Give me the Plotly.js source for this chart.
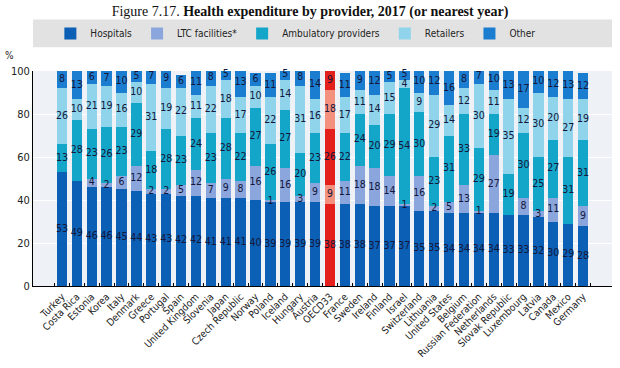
<!DOCTYPE html>
<html>
<head>
<meta charset="utf-8">
<script src="https://cdn.plot.ly/plotly-3.0.1.min.js"></script>
<style>html,body{margin:0;padding:0;background:#fff;}#chart{width:620px;height:368px;}</style>
</head>
<body>
<div id="chart"></div>
<script>
const countries = ["Turkey","Costa Rica","Estonia","Korea","Italy","Denmark","Greece","Portugal","Spain","United Kingdom","Slovenia","Japan","Czech Republic","Norway","Poland","Iceland","Hungary","Austria","OECD33","France","Sweden","Ireland","Finland","Israel","Switzerland","Lithuania","United States","Belgium","Russian Federation","Netherlands","Slovak Republic","Luxembourg","Latvia","Canada","Mexico","Germany"];
const hospitals  = [53,49,46,46,45,44,43,43,42,42,41,41,41,40,39,39,39,39,38,38,38,37,37,37,35,35,34,34,34,34,33,33,32,30,29,28];
const ltc        = [0,0,4,2,6,12,2,2,5,12,7,9,8,16,1,16,3,9,9,11,18,18,14,1,16,2,5,13,1,27,0,8,3,11,0,9];
const ambulatory = [13,28,23,26,23,29,18,28,23,24,23,28,22,27,26,27,20,23,26,22,24,20,29,54,30,23,31,33,29,19,19,30,25,27,31,31];
const retailers  = [26,10,21,19,16,10,31,19,22,11,22,18,17,10,22,14,31,16,18,17,11,14,15,4,9,29,14,12,30,11,35,12,30,20,27,19];
const other      = [8,13,6,7,10,5,7,9,6,11,8,5,13,6,11,5,8,14,9,11,9,12,5,5,10,12,16,8,7,10,13,17,10,12,13,12];

const seriesNames = ["Hospitals","LTC facilities*","Ambulatory providers","Retailers","Other"];
const seriesData = [hospitals, ltc, ambulatory, retailers, other];
const seriesColors = ["#0b5fb5","#8aa6dc","#14a6c9","#8fd4ea","#1a7dd0"];
const oecdColors = ["#e3201b","#f4907e","#e3201b","#f4907e","#e3201b"];
const oecdIdx = countries.indexOf("OECD33");
const FONT = "Liberation Sans Narrow, DejaVu Sans Condensed, Liberation Sans, Arial, sans-serif";

const traces = seriesData.map((vals, i) => ({
  type: "bar",
  name: seriesNames[i],
  x: countries,
  y: vals,
  marker: {color: countries.map((c, j) => j === oecdIdx ? oecdColors[i] : seriesColors[i]), line: {width: 0}},
  hoverinfo: "x+y+name"
}));

// value labels at segment centres, placed through the axes
const base = countries.map(() => 0);
seriesData.forEach((vals) => {
  const ys = [], xs = [], ts = [];
  vals.forEach((v, j) => {
    if (v > 0) { xs.push(countries[j]); ys.push(base[j] + v / 2); ts.push(String(v)); }
    base[j] += v;
  });
  traces.push({
    type: "scatter", mode: "text", x: xs, y: ys, text: ts,
    textposition: "middle center",
    textfont: {family: FONT, size: 10.5, color: "#15163a"},
    showlegend: false, hoverinfo: "skip", cliponaxis: false
  });
});

const layout = {
  width: 620, height: 368,
  margin: {l: 33, r: 8, t: 71, b: 82},
  paper_bgcolor: "#ffffff",
  plot_bgcolor: "#eef2f6",
  barmode: "stack",
  bargap: 0.3,
  showlegend: true,
  legend: {
    orientation: "h", x: 0.03, xanchor: "left", y: 1.175, yanchor: "middle",
    bgcolor: "rgba(0,0,0,0)",
    itemwidth: 30,
    font: {family: FONT, size: 10, color: "#222"},
    traceorder: "normal",
    itemclick: false
  },
  title: {
    text: "Figure 7.17. <b>Health expenditure by provider, 2017 (or nearest year)</b>",
    font: {family: "Liberation Serif, Times New Roman, serif", size: 14, color: "#111"},
    x: 0.5, xanchor: "center", y: 0.97, yanchor: "middle"
  },
  xaxis: {
    type: "category",
    tickangle: -45,
    tickfont: {family: FONT, size: 10, color: "#222"},
    showline: true, linecolor: "#000", linewidth: 1,
    ticks: "inside", ticklen: 3, tickcolor: "#000", tickson: "boundaries",
    showgrid: false,
    automargin: false
  },
  yaxis: {
    range: [0, 100],
    tickvals: [0,20,40,60,80,100],
    tickfont: {family: FONT, size: 11, color: "#222"},
    showline: true, linecolor: "#000", linewidth: 1,
    showgrid: true, gridcolor: "#ffffff", gridwidth: 1,
    zeroline: false,
    ticks: "", ticklen: 0,
    automargin: false
  },
  shapes: [{
    type: "rect", xref: "paper", yref: "paper",
    x0: 0, x1: 1, y0: 1.11, y1: 1.24,
    fillcolor: "#e2e2e2", line: {width: 0}, layer: "below"
  }],
  annotations: [{
    text: "%", xref: "paper", yref: "paper", x: -0.03, y: 1.07,
    xanchor: "right", yanchor: "middle", showarrow: false,
    font: {family: FONT, size: 10, color: "#222"}
  }]
};

Plotly.newPlot("chart", traces, layout, {displayModeBar: false, staticPlot: true});
</script>
</body>
</html>
